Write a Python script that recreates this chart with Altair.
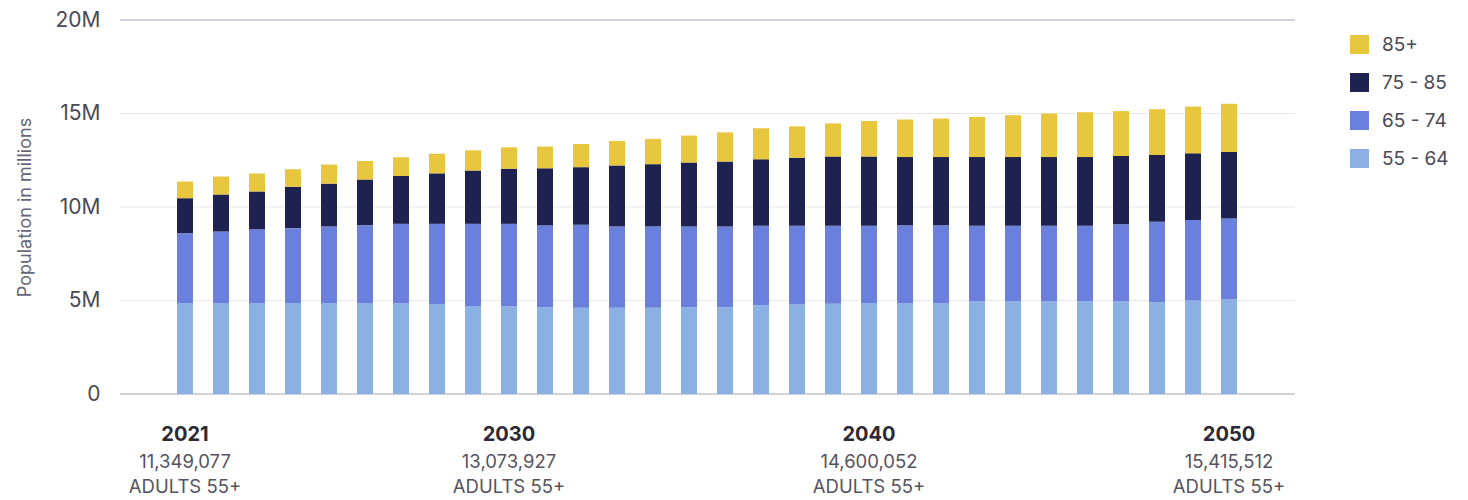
import altair as alt
import pandas as pd

# ---- data (millions) ----
years = list(range(2021, 2051))
age_55_64 = [4.87, 4.87, 4.87, 4.87, 4.87, 4.87, 4.84, 4.78, 4.71, 4.69,
             4.64, 4.61, 4.61, 4.61, 4.64, 4.64, 4.75, 4.79, 4.82, 4.86,
             4.84, 4.84, 4.94, 4.94, 4.94, 4.94, 4.94, 4.91, 5.00, 5.05]
age_65_74 = [3.73, 3.82, 3.93, 4.00, 4.09, 4.16, 4.26, 4.32, 4.39, 4.41,
             4.38, 4.44, 4.35, 4.35, 4.32, 4.32, 4.25, 4.21, 4.18, 4.14,
             4.19, 4.19, 4.06, 4.06, 4.06, 4.06, 4.14, 4.30, 4.30, 4.34]
age_75_85 = [1.87, 1.98, 2.03, 2.21, 2.29, 2.44, 2.56, 2.70, 2.85, 2.95,
             3.05, 3.08, 3.26, 3.33, 3.42, 3.47, 3.55, 3.64, 3.70, 3.70,
             3.64, 3.64, 3.67, 3.67, 3.67, 3.67, 3.65, 3.57, 3.57, 3.55]
age_85_plus = [0.89, 0.96, 0.96, 0.94, 1.02, 0.99, 1.00, 1.05, 1.08, 1.14,
               1.16, 1.24, 1.31, 1.35, 1.44, 1.56, 1.66, 1.67, 1.77, 1.90,
               2.01, 2.06, 2.15, 2.24, 2.33, 2.40, 2.40, 2.45, 2.50, 2.58]

groups = ["85+", "75 - 85", "65 - 74", "55 - 64"]
group_colors = ["#E8C63E", "#1D2250", "#6A80DC", "#8AB0E4"]

label_years = ["2021", "2030", "2040", "2050"]
label_totals = ["11,349,077", "13,073,927", "14,600,052", "15,415,512"]
label_caption = ["ADULTS 55+", "ADULTS 55+", "ADULTS 55+", "ADULTS 55+"]

y_ticks = [0, 5, 10, 15, 20]
grid_light = [5, 10, 15]
grid_dark = [0, 20]

FONT = "Inter"

# ---- tables ----
series = [("55 - 64", age_55_64, 0), ("65 - 74", age_65_74, 1),
          ("75 - 85", age_75_85, 2), ("85+", age_85_plus, 3)]
rows = []
for i, yr in enumerate(years):
    for g, vals, o in series:
        rows.append({"year": str(yr), "group": g, "value": vals[i], "ord": o})
df = pd.DataFrame(rows)

lab = pd.DataFrame({"year": label_years, "total": label_totals, "cap": label_caption})

W, H = 1175, 374

y_scale = alt.Scale(domain=[0, 20], nice=False)
y_axis = alt.Axis(values=y_ticks, title="Population in millions",
                  labelExpr="datum.value == 0 ? '0' : datum.value + 'M'",
                  labelFontSize=21, labelColor="#4a4a55", labelFont=FONT,
                  labelPadding=20, ticks=False, domain=False, grid=False,
                  titleFont=FONT, titleFontSize=18, titleFontWeight="normal",
                  titleColor="#66667a", titlePadding=20)

x_enc = alt.X("year:N",
              scale=alt.Scale(domain=[str(y) for y in years], range=[57, 1117],
                              paddingInner=0.556, paddingOuter=0),
              axis=None)

rules_light = alt.Chart(pd.DataFrame({"value": grid_light})).mark_rule(
    color="#e6e6ec", strokeWidth=1).encode(
    y=alt.Y("value:Q", scale=y_scale, axis=y_axis),
    x=alt.value(0), x2=alt.value(W))
rules_dark = alt.Chart(pd.DataFrame({"value": grid_dark})).mark_rule(
    color="#a4a4b4", strokeWidth=1).encode(
    y=alt.Y("value:Q", scale=y_scale, axis=y_axis),
    x=alt.value(0), x2=alt.value(W))

bars = alt.Chart(df).mark_bar().encode(
    x=x_enc,
    y=alt.Y("value:Q", stack="zero", scale=y_scale, axis=y_axis),
    color=alt.Color("group:N",
                    scale=alt.Scale(domain=groups, range=group_colors),
                    legend=alt.Legend(title=None, orient="none", legendX=1230, legendY=15,
                                      symbolType="square", symbolSize=361,
                                      symbolStrokeWidth=0, labelFontSize=19,
                                      labelFont=FONT, labelColor="#4a4a55",
                                      labelOffset=13, rowPadding=18, padding=0)),
    order=alt.Order("ord:Q", sort="ascending"),
)

t_year = alt.Chart(lab).mark_text(font=FONT, fontSize=20, fontWeight="bold",
                                  color="#2b2a35", baseline="middle").encode(
    x=x_enc, y=alt.value(415), text="year:N")
t_total = alt.Chart(lab).mark_text(font=FONT, fontSize=18.5, color="#55535f",
                                   baseline="middle").encode(
    x=x_enc, y=alt.value(442), text="total:N")
t_cap = alt.Chart(lab).mark_text(font=FONT, fontSize=18.5, color="#55535f",
                                 baseline="middle").encode(
    x=x_enc, y=alt.value(467), text="cap:N")

chart = alt.layer(rules_light, rules_dark, bars, t_year, t_total, t_cap).properties(
    width=W, height=H,
    autosize=alt.AutoSizeParams(type="none"),
    padding={"left": 112, "top": 12, "right": 165, "bottom": 104},
).configure(background="white").configure_view(strokeWidth=0)

chart.save("out.html", embed_options={"renderer": "svg", "actions": False})
